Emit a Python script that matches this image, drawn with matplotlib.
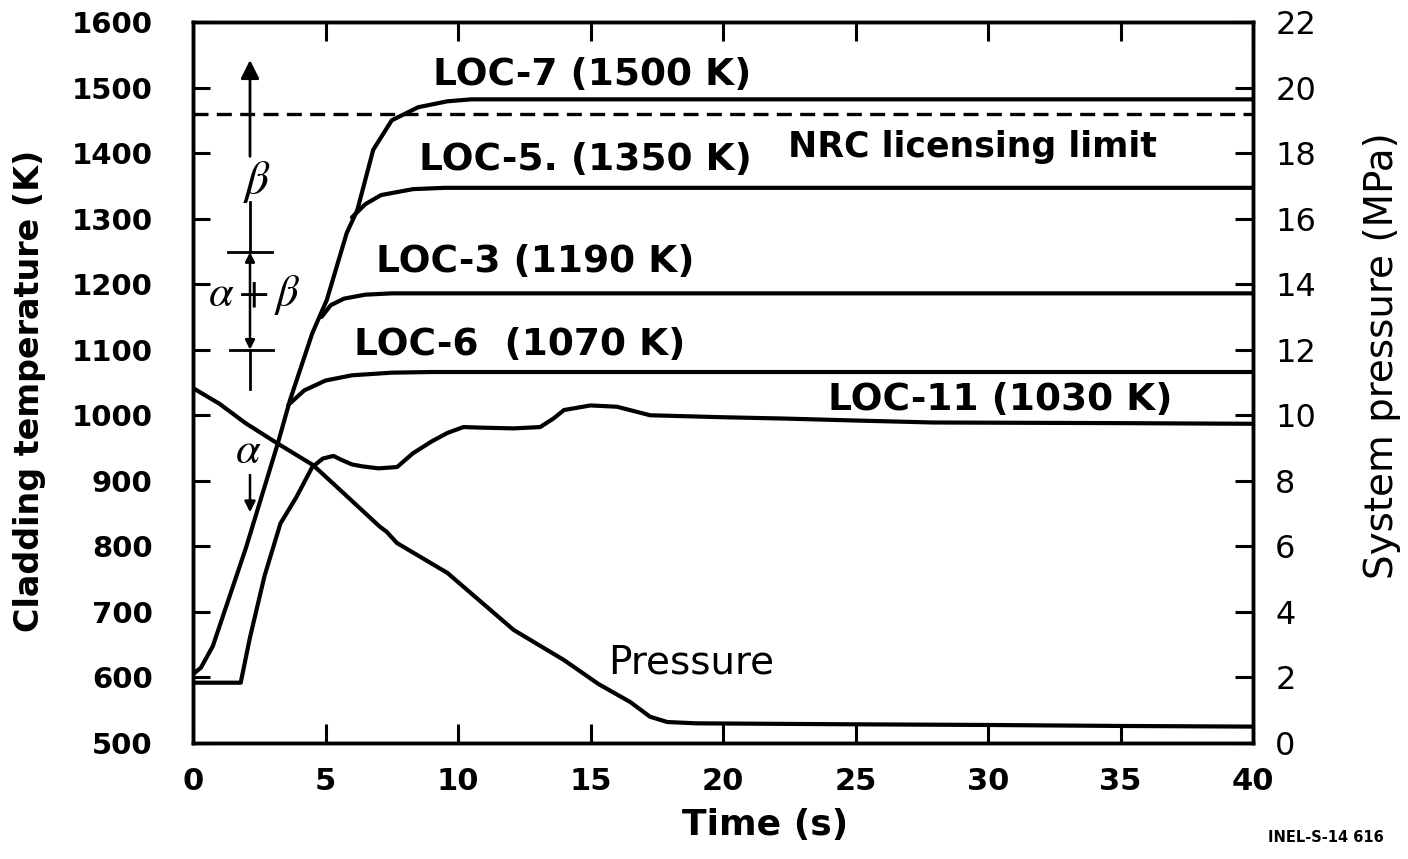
import matplotlib
matplotlib.use("Agg")
import matplotlib.pyplot as plt

plt.rcParams['font.family'] = ['DejaVu Sans']
plt.rcParams['mathtext.fontset'] = 'stix'

# ---------------- data ----------------
x_ticks = [0, 5, 10, 15, 20, 25, 30, 35, 40]
temp_ticks = [500, 600, 700, 800, 900, 1000, 1100, 1200, 1300, 1400, 1500, 1600]
press_ticks = [0, 2, 4, 6, 8, 10, 12, 14, 16, 18, 20, 22]

# LOC-7 (common heat-up trunk + plateau)
loc7_t = [0, 0.3, 0.75, 2.0, 3.2, 3.66, 4.5, 5.05, 5.8, 6.2, 6.8, 7.5, 8.5, 9.6, 10.5, 40]
loc7_T = [605, 615, 648, 798, 957, 1023, 1125, 1176, 1278, 1313, 1405, 1450, 1470, 1479, 1482, 1482]

# Branches off the trunk
loc5_t = [6.0, 6.5, 7.1, 8.3, 9.5, 40]
loc5_T = [1302, 1322, 1336, 1345, 1347, 1347]

loc3_t = [4.85, 5.2, 5.7, 6.5, 7.5, 40]
loc3_T = [1150, 1168, 1178, 1184, 1186, 1186]

loc6_t = [3.6, 4.2, 5.0, 6.0, 7.5, 9.0, 40]
loc6_T = [1016, 1038, 1053, 1061, 1065, 1066, 1066]

loc11_t = [0, 1.8, 2.15, 2.7, 3.3, 3.9, 4.5, 4.9, 5.3, 5.6, 6.0, 6.4, 7.0, 7.7, 8.3,
           9.0, 9.6, 10.2, 11.0, 12.1, 13.1, 13.6, 14.0, 15.0, 16.0, 17.25, 20, 22.3,
           25, 27.9, 35, 40]
loc11_T = [592, 592, 661, 755, 835, 875, 921, 934, 938, 932, 925, 922, 919, 921, 942,
           960, 973, 982, 981, 980, 982, 995, 1008, 1015, 1013, 1000, 997, 995,
           992, 989, 988, 987]

press_t = [0, 1, 2, 3.17, 4.53, 5.5, 7.05, 7.3, 7.7, 9.6, 12.1, 14.0, 15.3, 16.5,
           17.25, 17.9, 19, 25, 30, 35, 40]
press_P = [10.83, 10.35, 9.75, 9.15, 8.48, 7.76, 6.6, 6.45, 6.1, 5.19, 3.45, 2.53,
           1.8, 1.25, 0.8, 0.64, 0.6, 0.57, 0.55, 0.52, 0.5]

nrc_limit = 1460

# ---------------- figure ----------------
fig = plt.figure(figsize=(14.08, 8.59), dpi=100)
ax = fig.add_axes([193 / 1408, 1 - 743 / 859, 1060 / 1408, 721 / 859])
ax2 = ax.twinx()

lw = 3.0
for t, T in [(loc7_t, loc7_T), (loc5_t, loc5_T), (loc3_t, loc3_T),
             (loc6_t, loc6_T), (loc11_t, loc11_T)]:
    ax.plot(t, T, color='black', lw=lw, solid_capstyle='round', solid_joinstyle='round')

ax.axhline(nrc_limit, color='black', lw=2.4, dashes=(4.5, 2.5))
ax2.plot(press_t, press_P, color='black', lw=lw, solid_joinstyle='round')

ax.set_xlim(0, 40)
ax.set_ylim(500, 1600)
ax2.set_ylim(0, 22)
ax.set_xticks(x_ticks)
ax.set_yticks(temp_ticks)
ax2.set_yticks(press_ticks)

for sp in ax.spines.values():
    sp.set_linewidth(2.5)
for sp in ax2.spines.values():
    sp.set_linewidth(2.5)

ax.tick_params(axis='y', direction='in', length=12, width=2.2, pad=29,
               labelsize=21)
ax.tick_params(axis='x', direction='in', length=14, width=2.2, pad=17,
               labelsize=22, top=True)
for lab in ax.get_xticklabels() + ax.get_yticklabels():
    lab.set_fontweight('bold')
ax2.tick_params(axis='y', direction='in', length=13, width=2.2, pad=16,
                labelsize=23)

# axis labels
ax.set_xlabel('Time (s)', fontsize=26, fontweight='bold')
ax.xaxis.set_label_coords((765 - 193) / 1060, -(808 - 743) / 721)
fig.text(30 / 1408, 1 - 391 / 859, 'Cladding temperature (K)', rotation=90,
         fontsize=24, fontweight='bold', ha='center', va='center')
fig.text(1382 / 1408, 1 - 356 / 859, 'System pressure (MPa)', rotation=90,
         fontsize=28, ha='center', va='center')
fig.text(1326 / 1408, 1 - 838 / 859, 'INEL-S-14 616', fontsize=10.5,
         fontweight='bold', ha='center', va='center')


# text positions given in reference pixels, converted to data coordinates
def px2t(px):
    return (px - 193) / 26.5


def py2T(py):
    return 1600 - (py - 22) / 0.6555


lab_kw = dict(fontsize=27, fontweight='bold', ha='center', va='center')
ax.text(px2t(592), py2T(75), 'LOC-7 (1500 K)', **lab_kw)
ax.text(px2t(972), py2T(147), 'NRC licensing limit', fontsize=25,
        fontweight='bold', ha='center', va='center')
ax.text(px2t(585), py2T(160), 'LOC-5. (1350 K)', **lab_kw)
ax.text(px2t(535), py2T(262), 'LOC-3 (1190 K)', **lab_kw)
ax.text(px2t(520), py2T(345), 'LOC-6  (1070 K)', **lab_kw)
ax.text(px2t(1000), py2T(400), 'LOC-11 (1030 K)', **lab_kw)
ax.text(px2t(691), py2T(663), 'Pressure', fontsize=28, ha='center', va='center')

# alpha / beta phase annotation
xa = px2t(250)
akw = dict(color='black', lw=2.0)
ax.annotate('', xy=(xa, 1542), xytext=(xa, 1395),
            arrowprops=dict(arrowstyle='-|>', color='black', lw=2.0,
                            mutation_scale=28, shrinkA=0, shrinkB=0))
ax.plot([xa, xa], [1325, 1252], **akw)
ax.annotate('', xy=(xa, 1249), xytext=(xa, 1100),
            arrowprops=dict(arrowstyle='<|-|>', color='black', lw=1.8,
                            mutation_scale=14, shrinkA=0, shrinkB=0))
ax.plot([xa, xa], [1100, 1040], **akw)
ax.annotate('', xy=(xa, 852), xytext=(xa, 910),
            arrowprops=dict(arrowstyle='-|>', color='black', lw=1.8,
                            mutation_scale=16, shrinkA=0, shrinkB=0))
ax.plot([px2t(228), px2t(272)], [1249, 1249], **akw)
ax.plot([px2t(230), px2t(273)], [1100, 1100], **akw)

ax.text(px2t(257), py2T(182), r'$\beta$', fontsize=34, ha='center', va='center')
ax.text(px2t(254), py2T(295), r'$\alpha+\beta$', fontsize=32, ha='center',
        va='center')
ax.text(px2t(248), py2T(451), r'$\alpha$', fontsize=32, ha='center', va='center',
        bbox=dict(facecolor='white', edgecolor='none', pad=1))

fig.savefig('out.png', dpi=100)
